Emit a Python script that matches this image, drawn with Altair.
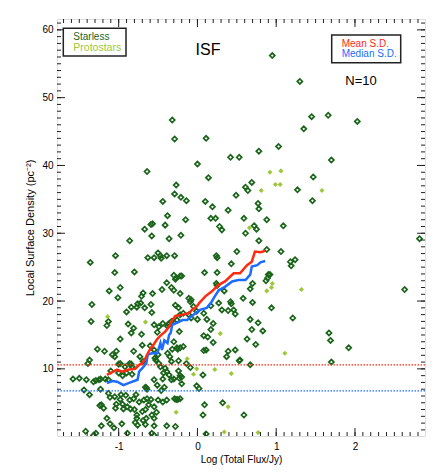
import altair as alt
import pandas as pd

# ---------------- data ----------------
starless_x = [0.95, 1.30, -0.32, -0.29, 0.11, 1.45, 1.66, 1.35, 1.03, 0.78, 0.42, 0.53, 0.00, 1.70, 2.03,
              -0.64, -0.27, -0.29, -0.21, -0.44, -0.38, -0.59, -0.57, -0.41, -0.67, -0.58, -0.36, -0.21, -0.86,
              -1.04, -1.36, -0.63, -0.55, -0.50, -0.47, -0.46, -0.39, -0.29, -1.05, -0.80, -0.30, -0.28, -0.22,
              -0.39, -0.33, -0.30, -1.12, -0.98, -1.01, -0.69, -0.57, -0.45, -0.22, -1.34, -0.72, -0.71,
              0.14, -0.14, 0.10, 0.19, 0.49, 0.61, 0.69, 0.64, 0.77, 0.78, 0.39, 1.27, -0.15, 0.17, 0.23, 0.28,
              0.31, 0.59, 0.72, 0.75, 0.61, 0.88, 1.09, 0.78, 0.24, 0.25, 0.50, 0.43, 0.88, 1.06, 1.18, 1.19,
              1.24, 0.09, 0.25, -0.20, -0.27, 0.90, 0.92, 0.87, 0.89, 0.70, 0.67, 0.24, 0.25, 0.34, -0.11, -0.08,
              -0.09, 0.42, 0.70, 0.58,
              1.47, 1.46, 2.82, 2.63, 0.94,
              1.21, 1.67, 1.69, 1.92, 1.70, 0.67, 0.77, 0.69, 0.83, 0.63, 0.74, 0.67, 0.59, 0.54,
              0.43, 0.27, 0.17, 0.39, 0.48, -0.11, 0.00, -0.08, 0.12, 0.20, 0.17, 0.08, 0.13, 0.20, -0.23, -0.25,
              -0.22, 0.08, 0.11, 0.39, 0.48, 0.37, -0.24, -0.09, -0.14, 0.53, 0.07, -0.24, -0.22, -0.20, -0.23,
              -0.20, -0.01, 0.02, -0.27, -0.25, 0.09, 0.32, 0.07, 0.11,
              -1.35, -1.13, -1.15, -0.90, -0.84, -0.76, -0.77, -0.67, -0.58, -0.59, -0.88, -0.81, -0.84, -0.71,
              -0.55, -0.49, -0.51, -0.38, -0.98, -1.03, -1.08, -1.18, -1.27, -0.70, -0.60, -0.55, -0.50, -0.53,
              -0.38, -0.32, -1.37, -1.39, -1.00, -0.84, -1.58, -1.50, -1.41, -1.29, -1.25, -1.23, -1.44, -1.37,
              -1.23, -1.13, -1.11, -1.05, -0.97, -0.98, -0.91, -0.86, -0.81, -0.78, -0.66, -0.64, -0.65, -0.55,
              -0.44, -0.51, -0.42, -0.46, -0.33, -0.36, -0.30, -0.74, -0.68, -0.64, -0.59, -0.62, -0.55, -0.44,
              -0.50, -0.39, -0.29, -0.22, -1.24, -1.03, -1.04, -0.95, -0.94, -0.89, -0.85, -0.80, -0.77, -0.70,
              -0.66, -0.58, -0.55, -0.52, -1.15, -0.77, -0.65, -0.79, -0.76, -1.11, -1.06, -1.22, -0.96, -0.55,
              -0.39, -0.28, -1.29, -1.32, -0.89, -0.58, -0.55, -0.69, -0.66, -1.42,
              -0.44, -0.37, -0.33, -0.28, -0.24, -0.22, -0.18, -0.05, -0.01, 0.08, 0.31, 0.46, -0.30, -0.26,
              -0.18, -0.35, -0.33, -0.54, -0.49, -0.47, -0.41, -0.39, -0.43, -0.81, -0.73, -0.69, -1.05, -0.98,
              -0.92, -1.10, -1.00, -0.90, -0.95, -0.83, -1.32, -1.17, -1.13, -1.22, -1.19, -0.86, -0.83, -0.26]
starless_y = [56.2, 52.4, 46.7, 43.9, 44.0, 47.2, 47.4, 45.4, 42.8, 42.1, 41.2, 41.2, 40.2, 40.8, 46.5,
              39.1, 37.1, 35.8, 35.3, 34.7, 32.6, 31.3, 31.4, 31.2, 30.6, 29.6, 29.2, 29.7, 28.9,
              26.7, 25.7, 26.4, 26.4, 27.1, 26.7, 26.3, 26.7, 26.7, 24.2, 24.3, 23.8, 23.2, 23.7,
              22.7, 22.0, 21.6, 21.5, 22.0, 20.5, 21.2, 21.1, 21.7, 21.1, 19.5, 19.7, 20.7,
              38.2, 34.8, 34.7, 33.9, 35.6, 36.8, 37.5, 36.3, 34.4, 33.6, 33.4, 36.4, 32.0, 32.2, 32.2, 31.0,
              30.5, 32.2, 31.1, 30.6, 30.0, 32.0, 31.1, 28.9, 26.7, 26.4, 27.3, 25.5, 27.6, 27.3, 25.8, 25.2,
              26.1, 24.2, 24.2, 23.7, 23.4, 23.9, 23.9, 23.0, 23.4, 22.6, 21.8, 22.6, 22.3, 21.5, 20.4, 20.2,
              19.9, 19.9, 19.8, 20.4,
              38.3, 34.8, 29.2, 21.7, 19.0,
              17.5, 15.3, 14.2, 13.1, 11.0, 17.3, 16.8, 15.8, 15.6, 14.4, 13.6, 10.6, 3.2, 11.3,
              19.6, 19.7, 19.3, 18.6, 18.1, 18.0, 17.3, 17.5, 17.3, 16.7, 15.8, 14.9, 14.7, 13.9, 15.5, 12.9,
              13.1, 12.7, 12.8, 12.6, 12.8, 11.8, 11.2, 10.2, 10.8, 11.2, 9.1, 9.7, 9.0, 8.8, 8.6,
              7.8, 7.5, 7.1, 5.5, 5.5, 4.7, 5.0, 3.2, 0.4,
              17.0, 17.0, 16.4, 18.4, 19.1, 19.6, 19.1, 19.0, 18.3, 19.5, 16.6, 16.0, 15.3, 15.1,
              16.5, 16.2, 15.4, 16.3, 14.4, 12.6, 12.1, 12.6, 12.9, 13.5, 13.4, 12.8, 12.1, 11.3,
              12.3, 12.9, 11.3, 10.8, 10.7, 10.7, 8.5, 8.6, 8.4, 8.3, 8.4, 8.5, 6.9, 6.2,
              7.0, 6.4, 5.8, 5.9, 6.2, 5.5, 6.1, 5.4, 5.6, 6.2, 7.3, 7.0, 7.2, 8.4,
              8.5, 7.6, 7.3, 6.8, 8.4, 9.1, 8.5, 5.1, 5.4, 5.6, 5.5, 4.7, 4.4, 5.1,
              5.4, 5.4, 5.6, 5.6, 4.6, 4.8, 4.2, 4.8, 4.1, 4.4, 4.1, 4.0, 3.2, 3.7,
              4.0, 3.2, 2.7, 3.6, 2.7, 2.7, 2.7, 2.1, 1.7, 1.9, 1.3, 1.6, 1.9, 1.6,
              1.6, 1.5, 0.5, 0.2, 0.5, 0.5, 0.2, 2.4, 1.8, 0.8,
              16.7, 16.6, 17.0, 19.4, 19.0, 18.0, 18.2, 19.2, 18.5, 18.2, 18.7, 18.7, 14.0, 13.1,
              13.3, 11.8, 11.1, 11.6, 10.8, 10.3, 10.1, 9.6, 9.4, 12.6, 11.8, 11.1, 11.8, 10.8,
              10.3, 9.7, 9.4, 9.4, 9.0, 9.2, 8.1, 8.5, 8.4, 4.7, 4.2, 10.8, 10.3, 17.2]

proto_x = [0.92, 1.06, 0.99, 1.05, 0.81, 1.58, 0.66, 0.95, 0.94, 0.88, 1.32, 1.11, -1.14, -0.66,
           0.29, -0.13, -0.01, 0.22, -0.05, 0.43, -0.27, 0.39, 0.34, 0.77]
proto_y = [39.0, 39.2, 37.2, 37.2, 36.3, 36.3, 30.8, 22.6, 22.0, 21.5, 21.7, 12.3, 17.7, 16.9,
           15.2, 11.5, 10.0, 9.9, 9.2, 9.3, 3.6, 4.4, 0.7, 0.6]

mean_x = [-1.15, -1.10, -1.02, -0.96, -0.87, -0.79, -0.74, -0.70, -0.66, -0.63, -0.60, -0.55, -0.51,
          -0.47, -0.41, -0.36, -0.32, -0.28, -0.19, -0.11, -0.07, -0.01, 0.03, 0.10, 0.18, 0.27, 0.35,
          0.46, 0.54, 0.63, 0.69, 0.73, 0.80, 0.86]
mean_y = [9.1, 9.4, 9.9, 9.6, 9.9, 10.0, 10.6, 10.8, 11.6, 12.3, 12.9, 13.7, 14.4, 14.9, 15.5, 16.2,
          17.2, 17.8, 18.0, 18.2, 18.7, 19.2, 19.8, 20.7, 21.4, 22.4, 22.9, 24.1, 24.1, 25.3, 25.8,
          27.3, 27.2, 27.4]
median_x = [-1.15, -1.08, -1.02, -0.94, -0.85, -0.76, -0.74, -0.70, -0.65, -0.63, -0.58, -0.51, -0.47,
            -0.45, -0.42, -0.38, -0.36, -0.34, -0.32, -0.26, -0.19, -0.13, -0.05, 0.03, 0.12, 0.18,
            0.22, 0.27, 0.35, 0.44, 0.52, 0.61, 0.67, 0.69, 0.76, 0.80, 0.86]
median_y = [7.9, 8.2, 8.1, 7.6, 8.0, 8.4, 9.6, 10.1, 10.8, 12.1, 12.3, 12.3, 13.8, 12.8, 14.2, 13.8,
            15.0, 15.3, 16.5, 16.8, 17.2, 17.2, 18.0, 18.7, 19.0, 19.9, 20.7, 21.6, 22.1, 22.9, 23.1,
            23.1, 23.9, 25.1, 25.3, 25.7, 25.9]

mean_sd = [10.6]
median_sd = [6.75]

x_major = [-1, 0, 1, 2]
x_minor = [round(-1.7 + 0.1 * i, 1) for i in range(46)]
y_major = [10, 20, 30, 40, 50, 60]
y_minor = list(range(1, 62))

# ---------------- layout ----------------
W, H = 368, 417
XDOM = [-1.783, 2.889]
YDOM = [0.1, 61.6]
DKGREEN = "#1b651b"
YGREEN = "#9cc83a"
RED = "#ff2a10"
BLUE = "#1c6cff"
FONT = "Liberation Sans"

xscale = alt.Scale(domain=XDOM, nice=False, zero=False)
yscale = alt.Scale(domain=YDOM, nice=False, zero=False)
xaxis = alt.Axis(values=x_major, ticks=False, domain=False, grid=False, labelExpr="'' + datum.value",
                 labelFontSize=10, labelPadding=5, labelColor="black", labelFont=FONT,
                 title="Log (Total Flux/Jy)", titleFontSize=10, titleFontWeight="normal",
                 titleFont=FONT, titleColor="black", titlePadding=3)
yaxis = alt.Axis(values=y_major, ticks=False, domain=False, grid=False, labelExpr="'' + datum.value",
                 labelFontSize=10, labelPadding=4, labelColor="black", labelFont=FONT,
                 title="Local Surface Density (pc⁻²)", titleFontSize=11, titleFontWeight="normal",
                 titleFont=FONT, titleColor="black", titlePadding=6)

X = alt.X("x:Q", scale=xscale, axis=xaxis)
Y = alt.Y("y:Q", scale=yscale, axis=yaxis)

df_s = pd.DataFrame({"x": starless_x, "y": starless_y})
df_p = pd.DataFrame({"x": proto_x, "y": proto_y})
df_mean = pd.DataFrame({"x": mean_x, "y": mean_y})
df_med = pd.DataFrame({"x": median_x, "y": median_y})

starless = alt.Chart(df_s).mark_point(shape="diamond", filled=False, size=26, strokeWidth=1.7,
                                      color=DKGREEN, opacity=1, clip=True).encode(x=X, y=Y)
proto = alt.Chart(df_p).mark_point(shape="diamond", filled=True, size=26, color=YGREEN,
                                   opacity=1, clip=True).encode(x=X, y=Y)
med_line = alt.Chart(df_med).mark_line(color=BLUE, strokeWidth=2.5).encode(x=X, y=Y, order="x:Q")
mean_line = alt.Chart(df_mean).mark_line(color=RED, strokeWidth=2.5).encode(x=X, y=Y, order="x:Q")

h_mean = alt.Chart(pd.DataFrame({"y": mean_sd})).mark_rule(color=RED, strokeWidth=1.2,
                                                            strokeDash=[1.5, 1.5]).encode(y=Y)
h_med = alt.Chart(pd.DataFrame({"y": median_sd})).mark_rule(color=BLUE, strokeWidth=1.2,
                                                             strokeDash=[1.5, 1.5]).encode(y=Y)

TICKC = "#222222"
def xticks(vals, L):
    d = pd.DataFrame({"x": vals})
    b = alt.Chart(d).mark_rule(color=TICKC, strokeWidth=1).encode(x=X, y=alt.value(H), y2=alt.value(H - L))
    t = alt.Chart(d).mark_rule(color=TICKC, strokeWidth=1).encode(x=X, y=alt.value(0), y2=alt.value(L))
    return [b, t]

def yticks(vals, L):
    d = pd.DataFrame({"y": vals})
    l = alt.Chart(d).mark_rule(color=TICKC, strokeWidth=1).encode(y=Y, x=alt.value(0), x2=alt.value(L))
    r = alt.Chart(d).mark_rule(color=TICKC, strokeWidth=1).encode(y=Y, x=alt.value(W), x2=alt.value(W - L))
    return [l, r]

tick_layers = xticks(x_major, 8) + xticks(x_minor, 4) + yticks(y_major, 8) + yticks(y_minor, 4)

def box(x1, x2, y1, y2):
    return alt.Chart(pd.DataFrame({"a": [0]})).mark_rect(fill="white", stroke="#222222", strokeWidth=1.5).encode(
        x=alt.value(x1), x2=alt.value(x2), y=alt.value(y1), y2=alt.value(y2))

def label(txt, x, y, color, size, align="left"):
    return alt.Chart(pd.DataFrame({"a": [0]})).mark_text(align=align, baseline="middle", font=FONT,
                                                         fontSize=size, color=color).encode(
        x=alt.value(x), y=alt.value(y), text=alt.value(txt))

texts = [
    box(6.3, 69, 9.3, 37),
    label("Starless", 16.3, 17.7, DKGREEN, 10),
    label("Protostars", 16.3, 28.8, YGREEN, 10.5),
    box(274.7, 343.7, 16, 43.7),
    label("Mean S.D.", 284.7, 25, RED, 10),
    label("Median S.D.", 284.7, 35.3, BLUE, 10),
    label("ISF", 151, 31, "black", 16, "center"),
    label("N=10", 304, 62.3, "black", 13, "center"),
]

chart = alt.layer(starless, proto, h_mean, h_med, med_line, mean_line, *tick_layers, *texts).properties(
    width=W, height=H,
    padding={"left": 49, "top": 11, "right": 10, "bottom": 30},
    autosize=alt.AutoSizeParams(type="none"),
).configure_view(stroke="#222222", strokeWidth=1.5).configure(font=FONT)

chart.save("out.html", embed_options={"renderer": "svg", "actions": False})
